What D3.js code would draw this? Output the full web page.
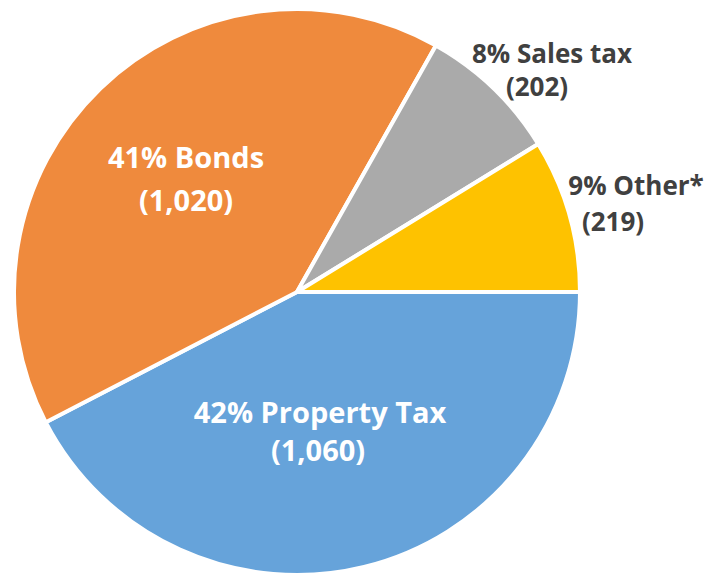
<!DOCTYPE html>
<html>
<head>
<meta charset="utf-8">
<script src="https://cdn.jsdelivr.net/npm/d3@7"></script>
<style>
  html, body { margin: 0; padding: 0; background: #fff; }
  svg { display: block; }
  text { font-family: "Open Sans", "Noto Sans", sans-serif; font-weight: 700; }
</style>
</head>
<body>
<svg id="chart" width="720" height="575"></svg>
<script>
// Revenue sources
const categories = ["Property Tax", "Bonds", "Sales tax", "Other*"];
const values = [1060, 1020, 202, 219];
const percentLabels = ["42%", "41%", "8%", "9%"];
const colors = ["#66a3da", "#ef8a3d", "#aaaaaa", "#fec200"];

// Label placement: [x, y] of each line's centre/baseline, font size and colour
const labelLayout = [
  { lines: [[320, 423], [318, 461]], fill: "#ffffff", size: 29 },
  { lines: [[186, 168], [186, 211]], fill: "#ffffff", size: 29 },
  { lines: [[552, 63], [537, 96]], fill: "#404040", size: 26 },
  { lines: [[636, 195], [613, 231]], fill: "#404040", size: 26 }
];

const width = 720, height = 575;
const cx = 297, cy = 292, radius = 283;

const svg = d3.select("#chart");
const g = svg.append("g").attr("transform", `translate(${cx},${cy})`);

const data = categories.map((c, i) => ({ name: c, value: values[i], pct: percentLabels[i], idx: i }));

const pie = d3.pie()
  .value(d => d.value)
  .sort(null)
  .startAngle(Math.PI / 2)
  .endAngle(Math.PI / 2 + 2 * Math.PI);

const arc = d3.arc().innerRadius(0).outerRadius(radius);

g.selectAll("path.slice")
  .data(pie(data))
  .join("path")
  .attr("class", "slice")
  .attr("d", arc)
  .attr("fill", d => colors[d.data.idx])
  .attr("stroke", "#ffffff")
  .attr("stroke-width", 4)
  .attr("stroke-linejoin", "round");

const fmt = d3.format(",");
const lbl = svg.append("g");
data.forEach((d, i) => {
  const lay = labelLayout[i];
  const texts = [`${d.pct} ${d.name}`, `(${fmt(d.value)})`];
  texts.forEach((t, j) => {
    lbl.append("text")
      .attr("x", lay.lines[j][0])
      .attr("y", lay.lines[j][1])
      .attr("text-anchor", "middle")
      .attr("font-size", lay.size)
      .attr("fill", lay.fill)
      .text(t);
  });
});
</script>
</body>
</html>
